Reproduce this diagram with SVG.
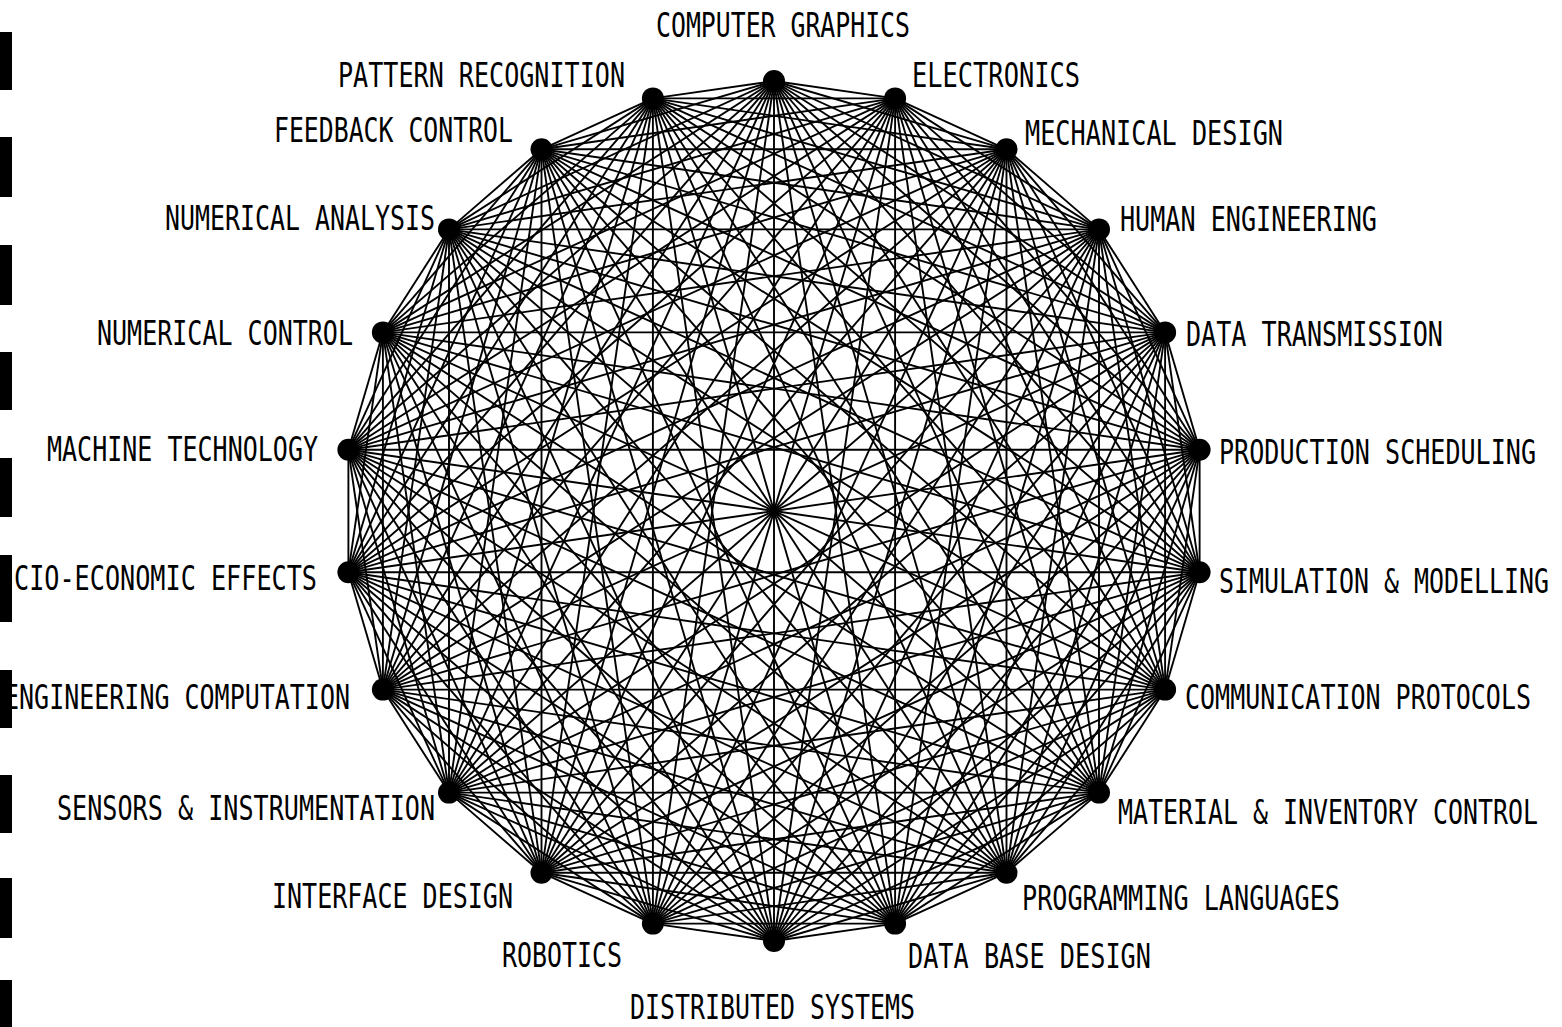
<svg xmlns="http://www.w3.org/2000/svg" width="1562" height="1027" viewBox="0 0 1562 1027">
<style>
.e{stroke:#000;stroke-width:1.9;fill:none}
.n{fill:#000}
.t{font-family:"DejaVu Sans Mono","Liberation Mono",monospace;font-size:25px;fill:#000}
.bar{fill:#000}
</style>
<rect width="1562" height="1027" fill="#fff"/>
<g id="scan-bars">
<rect class="bar" x="0" y="32" width="12" height="58"/>
<rect class="bar" x="0" y="137" width="12" height="60"/>
<rect class="bar" x="0" y="245" width="12" height="60"/>
<rect class="bar" x="0" y="352" width="12" height="58"/>
<rect class="bar" x="0" y="458" width="12" height="59"/>
<rect class="bar" x="0" y="775" width="12" height="58"/>
<rect class="bar" x="0" y="878" width="12" height="60"/>
<rect class="bar" x="0" y="980" width="12" height="47"/>
</g>
<g id="connectors">
<line class="e" x1="774" y1="81" x2="895.1" y2="98.4"/>
<line class="e" x1="774" y1="81" x2="1006.5" y2="149.3"/>
<line class="e" x1="774" y1="81" x2="1099" y2="229.4"/>
<line class="e" x1="774" y1="81" x2="1165.1" y2="332.4"/>
<line class="e" x1="774" y1="81" x2="1199.6" y2="449.8"/>
<line class="e" x1="774" y1="81" x2="1199.6" y2="572.2"/>
<line class="e" x1="774" y1="81" x2="1165.1" y2="689.6"/>
<line class="e" x1="774" y1="81" x2="1099" y2="792.6"/>
<line class="e" x1="774" y1="81" x2="1006.5" y2="872.7"/>
<line class="e" x1="774" y1="81" x2="895.1" y2="923.6"/>
<line class="e" x1="774" y1="81" x2="774" y2="941"/>
<line class="e" x1="774" y1="81" x2="652.9" y2="923.6"/>
<line class="e" x1="774" y1="81" x2="541.5" y2="872.7"/>
<line class="e" x1="774" y1="81" x2="449" y2="792.6"/>
<line class="e" x1="774" y1="81" x2="382.9" y2="689.6"/>
<line class="e" x1="774" y1="81" x2="348.4" y2="572.2"/>
<line class="e" x1="774" y1="81" x2="348.4" y2="449.8"/>
<line class="e" x1="774" y1="81" x2="382.9" y2="332.4"/>
<line class="e" x1="774" y1="81" x2="449" y2="229.4"/>
<line class="e" x1="774" y1="81" x2="541.5" y2="149.3"/>
<line class="e" x1="774" y1="81" x2="652.9" y2="98.4"/>
<line class="e" x1="895.1" y1="98.4" x2="1006.5" y2="149.3"/>
<line class="e" x1="895.1" y1="98.4" x2="1099" y2="229.4"/>
<line class="e" x1="895.1" y1="98.4" x2="1165.1" y2="332.4"/>
<line class="e" x1="895.1" y1="98.4" x2="1199.6" y2="449.8"/>
<line class="e" x1="895.1" y1="98.4" x2="1199.6" y2="572.2"/>
<line class="e" x1="895.1" y1="98.4" x2="1165.1" y2="689.6"/>
<line class="e" x1="895.1" y1="98.4" x2="1099" y2="792.6"/>
<line class="e" x1="895.1" y1="98.4" x2="1006.5" y2="872.7"/>
<line class="e" x1="895.1" y1="98.4" x2="895.1" y2="923.6"/>
<line class="e" x1="895.1" y1="98.4" x2="774" y2="941"/>
<line class="e" x1="895.1" y1="98.4" x2="652.9" y2="923.6"/>
<line class="e" x1="895.1" y1="98.4" x2="541.5" y2="872.7"/>
<line class="e" x1="895.1" y1="98.4" x2="449" y2="792.6"/>
<line class="e" x1="895.1" y1="98.4" x2="382.9" y2="689.6"/>
<line class="e" x1="895.1" y1="98.4" x2="348.4" y2="572.2"/>
<line class="e" x1="895.1" y1="98.4" x2="348.4" y2="449.8"/>
<line class="e" x1="895.1" y1="98.4" x2="382.9" y2="332.4"/>
<line class="e" x1="895.1" y1="98.4" x2="449" y2="229.4"/>
<line class="e" x1="895.1" y1="98.4" x2="541.5" y2="149.3"/>
<line class="e" x1="895.1" y1="98.4" x2="652.9" y2="98.4"/>
<line class="e" x1="1006.5" y1="149.3" x2="1099" y2="229.4"/>
<line class="e" x1="1006.5" y1="149.3" x2="1165.1" y2="332.4"/>
<line class="e" x1="1006.5" y1="149.3" x2="1199.6" y2="449.8"/>
<line class="e" x1="1006.5" y1="149.3" x2="1199.6" y2="572.2"/>
<line class="e" x1="1006.5" y1="149.3" x2="1165.1" y2="689.6"/>
<line class="e" x1="1006.5" y1="149.3" x2="1099" y2="792.6"/>
<line class="e" x1="1006.5" y1="149.3" x2="1006.5" y2="872.7"/>
<line class="e" x1="1006.5" y1="149.3" x2="895.1" y2="923.6"/>
<line class="e" x1="1006.5" y1="149.3" x2="774" y2="941"/>
<line class="e" x1="1006.5" y1="149.3" x2="652.9" y2="923.6"/>
<line class="e" x1="1006.5" y1="149.3" x2="541.5" y2="872.7"/>
<line class="e" x1="1006.5" y1="149.3" x2="449" y2="792.6"/>
<line class="e" x1="1006.5" y1="149.3" x2="382.9" y2="689.6"/>
<line class="e" x1="1006.5" y1="149.3" x2="348.4" y2="572.2"/>
<line class="e" x1="1006.5" y1="149.3" x2="348.4" y2="449.8"/>
<line class="e" x1="1006.5" y1="149.3" x2="382.9" y2="332.4"/>
<line class="e" x1="1006.5" y1="149.3" x2="449" y2="229.4"/>
<line class="e" x1="1006.5" y1="149.3" x2="541.5" y2="149.3"/>
<line class="e" x1="1006.5" y1="149.3" x2="652.9" y2="98.4"/>
<line class="e" x1="1099" y1="229.4" x2="1165.1" y2="332.4"/>
<line class="e" x1="1099" y1="229.4" x2="1199.6" y2="449.8"/>
<line class="e" x1="1099" y1="229.4" x2="1199.6" y2="572.2"/>
<line class="e" x1="1099" y1="229.4" x2="1165.1" y2="689.6"/>
<line class="e" x1="1099" y1="229.4" x2="1099" y2="792.6"/>
<line class="e" x1="1099" y1="229.4" x2="1006.5" y2="872.7"/>
<line class="e" x1="1099" y1="229.4" x2="895.1" y2="923.6"/>
<line class="e" x1="1099" y1="229.4" x2="774" y2="941"/>
<line class="e" x1="1099" y1="229.4" x2="652.9" y2="923.6"/>
<line class="e" x1="1099" y1="229.4" x2="541.5" y2="872.7"/>
<line class="e" x1="1099" y1="229.4" x2="449" y2="792.6"/>
<line class="e" x1="1099" y1="229.4" x2="382.9" y2="689.6"/>
<line class="e" x1="1099" y1="229.4" x2="348.4" y2="572.2"/>
<line class="e" x1="1099" y1="229.4" x2="348.4" y2="449.8"/>
<line class="e" x1="1099" y1="229.4" x2="382.9" y2="332.4"/>
<line class="e" x1="1099" y1="229.4" x2="449" y2="229.4"/>
<line class="e" x1="1099" y1="229.4" x2="541.5" y2="149.3"/>
<line class="e" x1="1099" y1="229.4" x2="652.9" y2="98.4"/>
<line class="e" x1="1165.1" y1="332.4" x2="1199.6" y2="449.8"/>
<line class="e" x1="1165.1" y1="332.4" x2="1199.6" y2="572.2"/>
<line class="e" x1="1165.1" y1="332.4" x2="1165.1" y2="689.6"/>
<line class="e" x1="1165.1" y1="332.4" x2="1099" y2="792.6"/>
<line class="e" x1="1165.1" y1="332.4" x2="1006.5" y2="872.7"/>
<line class="e" x1="1165.1" y1="332.4" x2="895.1" y2="923.6"/>
<line class="e" x1="1165.1" y1="332.4" x2="774" y2="941"/>
<line class="e" x1="1165.1" y1="332.4" x2="652.9" y2="923.6"/>
<line class="e" x1="1165.1" y1="332.4" x2="541.5" y2="872.7"/>
<line class="e" x1="1165.1" y1="332.4" x2="449" y2="792.6"/>
<line class="e" x1="1165.1" y1="332.4" x2="382.9" y2="689.6"/>
<line class="e" x1="1165.1" y1="332.4" x2="348.4" y2="572.2"/>
<line class="e" x1="1165.1" y1="332.4" x2="348.4" y2="449.8"/>
<line class="e" x1="1165.1" y1="332.4" x2="382.9" y2="332.4"/>
<line class="e" x1="1165.1" y1="332.4" x2="449" y2="229.4"/>
<line class="e" x1="1165.1" y1="332.4" x2="541.5" y2="149.3"/>
<line class="e" x1="1165.1" y1="332.4" x2="652.9" y2="98.4"/>
<line class="e" x1="1199.6" y1="449.8" x2="1199.6" y2="572.2"/>
<line class="e" x1="1199.6" y1="449.8" x2="1165.1" y2="689.6"/>
<line class="e" x1="1199.6" y1="449.8" x2="1099" y2="792.6"/>
<line class="e" x1="1199.6" y1="449.8" x2="1006.5" y2="872.7"/>
<line class="e" x1="1199.6" y1="449.8" x2="895.1" y2="923.6"/>
<line class="e" x1="1199.6" y1="449.8" x2="774" y2="941"/>
<line class="e" x1="1199.6" y1="449.8" x2="652.9" y2="923.6"/>
<line class="e" x1="1199.6" y1="449.8" x2="541.5" y2="872.7"/>
<line class="e" x1="1199.6" y1="449.8" x2="449" y2="792.6"/>
<line class="e" x1="1199.6" y1="449.8" x2="382.9" y2="689.6"/>
<line class="e" x1="1199.6" y1="449.8" x2="348.4" y2="572.2"/>
<line class="e" x1="1199.6" y1="449.8" x2="348.4" y2="449.8"/>
<line class="e" x1="1199.6" y1="449.8" x2="382.9" y2="332.4"/>
<line class="e" x1="1199.6" y1="449.8" x2="449" y2="229.4"/>
<line class="e" x1="1199.6" y1="449.8" x2="541.5" y2="149.3"/>
<line class="e" x1="1199.6" y1="449.8" x2="652.9" y2="98.4"/>
<line class="e" x1="1199.6" y1="572.2" x2="1165.1" y2="689.6"/>
<line class="e" x1="1199.6" y1="572.2" x2="1099" y2="792.6"/>
<line class="e" x1="1199.6" y1="572.2" x2="1006.5" y2="872.7"/>
<line class="e" x1="1199.6" y1="572.2" x2="895.1" y2="923.6"/>
<line class="e" x1="1199.6" y1="572.2" x2="774" y2="941"/>
<line class="e" x1="1199.6" y1="572.2" x2="652.9" y2="923.6"/>
<line class="e" x1="1199.6" y1="572.2" x2="541.5" y2="872.7"/>
<line class="e" x1="1199.6" y1="572.2" x2="449" y2="792.6"/>
<line class="e" x1="1199.6" y1="572.2" x2="382.9" y2="689.6"/>
<line class="e" x1="1199.6" y1="572.2" x2="348.4" y2="572.2"/>
<line class="e" x1="1199.6" y1="572.2" x2="348.4" y2="449.8"/>
<line class="e" x1="1199.6" y1="572.2" x2="382.9" y2="332.4"/>
<line class="e" x1="1199.6" y1="572.2" x2="449" y2="229.4"/>
<line class="e" x1="1199.6" y1="572.2" x2="541.5" y2="149.3"/>
<line class="e" x1="1199.6" y1="572.2" x2="652.9" y2="98.4"/>
<line class="e" x1="1165.1" y1="689.6" x2="1099" y2="792.6"/>
<line class="e" x1="1165.1" y1="689.6" x2="1006.5" y2="872.7"/>
<line class="e" x1="1165.1" y1="689.6" x2="895.1" y2="923.6"/>
<line class="e" x1="1165.1" y1="689.6" x2="774" y2="941"/>
<line class="e" x1="1165.1" y1="689.6" x2="652.9" y2="923.6"/>
<line class="e" x1="1165.1" y1="689.6" x2="541.5" y2="872.7"/>
<line class="e" x1="1165.1" y1="689.6" x2="449" y2="792.6"/>
<line class="e" x1="1165.1" y1="689.6" x2="382.9" y2="689.6"/>
<line class="e" x1="1165.1" y1="689.6" x2="348.4" y2="572.2"/>
<line class="e" x1="1165.1" y1="689.6" x2="348.4" y2="449.8"/>
<line class="e" x1="1165.1" y1="689.6" x2="382.9" y2="332.4"/>
<line class="e" x1="1165.1" y1="689.6" x2="449" y2="229.4"/>
<line class="e" x1="1165.1" y1="689.6" x2="541.5" y2="149.3"/>
<line class="e" x1="1165.1" y1="689.6" x2="652.9" y2="98.4"/>
<line class="e" x1="1099" y1="792.6" x2="1006.5" y2="872.7"/>
<line class="e" x1="1099" y1="792.6" x2="895.1" y2="923.6"/>
<line class="e" x1="1099" y1="792.6" x2="774" y2="941"/>
<line class="e" x1="1099" y1="792.6" x2="652.9" y2="923.6"/>
<line class="e" x1="1099" y1="792.6" x2="541.5" y2="872.7"/>
<line class="e" x1="1099" y1="792.6" x2="449" y2="792.6"/>
<line class="e" x1="1099" y1="792.6" x2="382.9" y2="689.6"/>
<line class="e" x1="1099" y1="792.6" x2="348.4" y2="572.2"/>
<line class="e" x1="1099" y1="792.6" x2="348.4" y2="449.8"/>
<line class="e" x1="1099" y1="792.6" x2="382.9" y2="332.4"/>
<line class="e" x1="1099" y1="792.6" x2="449" y2="229.4"/>
<line class="e" x1="1099" y1="792.6" x2="541.5" y2="149.3"/>
<line class="e" x1="1099" y1="792.6" x2="652.9" y2="98.4"/>
<line class="e" x1="1006.5" y1="872.7" x2="895.1" y2="923.6"/>
<line class="e" x1="1006.5" y1="872.7" x2="774" y2="941"/>
<line class="e" x1="1006.5" y1="872.7" x2="652.9" y2="923.6"/>
<line class="e" x1="1006.5" y1="872.7" x2="541.5" y2="872.7"/>
<line class="e" x1="1006.5" y1="872.7" x2="449" y2="792.6"/>
<line class="e" x1="1006.5" y1="872.7" x2="382.9" y2="689.6"/>
<line class="e" x1="1006.5" y1="872.7" x2="348.4" y2="572.2"/>
<line class="e" x1="1006.5" y1="872.7" x2="348.4" y2="449.8"/>
<line class="e" x1="1006.5" y1="872.7" x2="382.9" y2="332.4"/>
<line class="e" x1="1006.5" y1="872.7" x2="449" y2="229.4"/>
<line class="e" x1="1006.5" y1="872.7" x2="541.5" y2="149.3"/>
<line class="e" x1="1006.5" y1="872.7" x2="652.9" y2="98.4"/>
<line class="e" x1="895.1" y1="923.6" x2="774" y2="941"/>
<line class="e" x1="895.1" y1="923.6" x2="652.9" y2="923.6"/>
<line class="e" x1="895.1" y1="923.6" x2="541.5" y2="872.7"/>
<line class="e" x1="895.1" y1="923.6" x2="449" y2="792.6"/>
<line class="e" x1="895.1" y1="923.6" x2="382.9" y2="689.6"/>
<line class="e" x1="895.1" y1="923.6" x2="348.4" y2="572.2"/>
<line class="e" x1="895.1" y1="923.6" x2="348.4" y2="449.8"/>
<line class="e" x1="895.1" y1="923.6" x2="382.9" y2="332.4"/>
<line class="e" x1="895.1" y1="923.6" x2="449" y2="229.4"/>
<line class="e" x1="895.1" y1="923.6" x2="541.5" y2="149.3"/>
<line class="e" x1="895.1" y1="923.6" x2="652.9" y2="98.4"/>
<line class="e" x1="774" y1="941" x2="652.9" y2="923.6"/>
<line class="e" x1="774" y1="941" x2="541.5" y2="872.7"/>
<line class="e" x1="774" y1="941" x2="449" y2="792.6"/>
<line class="e" x1="774" y1="941" x2="382.9" y2="689.6"/>
<line class="e" x1="774" y1="941" x2="348.4" y2="572.2"/>
<line class="e" x1="774" y1="941" x2="348.4" y2="449.8"/>
<line class="e" x1="774" y1="941" x2="382.9" y2="332.4"/>
<line class="e" x1="774" y1="941" x2="449" y2="229.4"/>
<line class="e" x1="774" y1="941" x2="541.5" y2="149.3"/>
<line class="e" x1="774" y1="941" x2="652.9" y2="98.4"/>
<line class="e" x1="652.9" y1="923.6" x2="541.5" y2="872.7"/>
<line class="e" x1="652.9" y1="923.6" x2="449" y2="792.6"/>
<line class="e" x1="652.9" y1="923.6" x2="382.9" y2="689.6"/>
<line class="e" x1="652.9" y1="923.6" x2="348.4" y2="572.2"/>
<line class="e" x1="652.9" y1="923.6" x2="348.4" y2="449.8"/>
<line class="e" x1="652.9" y1="923.6" x2="382.9" y2="332.4"/>
<line class="e" x1="652.9" y1="923.6" x2="449" y2="229.4"/>
<line class="e" x1="652.9" y1="923.6" x2="541.5" y2="149.3"/>
<line class="e" x1="652.9" y1="923.6" x2="652.9" y2="98.4"/>
<line class="e" x1="541.5" y1="872.7" x2="449" y2="792.6"/>
<line class="e" x1="541.5" y1="872.7" x2="382.9" y2="689.6"/>
<line class="e" x1="541.5" y1="872.7" x2="348.4" y2="572.2"/>
<line class="e" x1="541.5" y1="872.7" x2="348.4" y2="449.8"/>
<line class="e" x1="541.5" y1="872.7" x2="382.9" y2="332.4"/>
<line class="e" x1="541.5" y1="872.7" x2="449" y2="229.4"/>
<line class="e" x1="541.5" y1="872.7" x2="541.5" y2="149.3"/>
<line class="e" x1="541.5" y1="872.7" x2="652.9" y2="98.4"/>
<line class="e" x1="449" y1="792.6" x2="382.9" y2="689.6"/>
<line class="e" x1="449" y1="792.6" x2="348.4" y2="572.2"/>
<line class="e" x1="449" y1="792.6" x2="348.4" y2="449.8"/>
<line class="e" x1="449" y1="792.6" x2="382.9" y2="332.4"/>
<line class="e" x1="449" y1="792.6" x2="449" y2="229.4"/>
<line class="e" x1="449" y1="792.6" x2="541.5" y2="149.3"/>
<line class="e" x1="449" y1="792.6" x2="652.9" y2="98.4"/>
<line class="e" x1="382.9" y1="689.6" x2="348.4" y2="572.2"/>
<line class="e" x1="382.9" y1="689.6" x2="348.4" y2="449.8"/>
<line class="e" x1="382.9" y1="689.6" x2="382.9" y2="332.4"/>
<line class="e" x1="382.9" y1="689.6" x2="449" y2="229.4"/>
<line class="e" x1="382.9" y1="689.6" x2="541.5" y2="149.3"/>
<line class="e" x1="382.9" y1="689.6" x2="652.9" y2="98.4"/>
<line class="e" x1="348.4" y1="572.2" x2="348.4" y2="449.8"/>
<line class="e" x1="348.4" y1="572.2" x2="382.9" y2="332.4"/>
<line class="e" x1="348.4" y1="572.2" x2="449" y2="229.4"/>
<line class="e" x1="348.4" y1="572.2" x2="541.5" y2="149.3"/>
<line class="e" x1="348.4" y1="572.2" x2="652.9" y2="98.4"/>
<line class="e" x1="348.4" y1="449.8" x2="382.9" y2="332.4"/>
<line class="e" x1="348.4" y1="449.8" x2="449" y2="229.4"/>
<line class="e" x1="348.4" y1="449.8" x2="541.5" y2="149.3"/>
<line class="e" x1="348.4" y1="449.8" x2="652.9" y2="98.4"/>
<line class="e" x1="382.9" y1="332.4" x2="449" y2="229.4"/>
<line class="e" x1="382.9" y1="332.4" x2="541.5" y2="149.3"/>
<line class="e" x1="382.9" y1="332.4" x2="652.9" y2="98.4"/>
<line class="e" x1="449" y1="229.4" x2="541.5" y2="149.3"/>
<line class="e" x1="449" y1="229.4" x2="652.9" y2="98.4"/>
<line class="e" x1="541.5" y1="149.3" x2="652.9" y2="98.4"/>
</g>
<g id="n0"><circle class="n" cx="774" cy="81" r="11"/><text class="t" transform="translate(656,37) scale(1,1.36)" textLength="254" lengthAdjust="spacingAndGlyphs">COMPUTER GRAPHICS</text></g>
<g id="n1"><circle class="n" cx="895.1" cy="98.4" r="11"/><text class="t" transform="translate(912,87) scale(1,1.36)" textLength="168" lengthAdjust="spacingAndGlyphs">ELECTRONICS</text></g>
<g id="n2"><circle class="n" cx="1006.5" cy="149.3" r="11"/><text class="t" transform="translate(1025,145) scale(1,1.36)" textLength="258" lengthAdjust="spacingAndGlyphs">MECHANICAL DESIGN</text></g>
<g id="n3"><circle class="n" cx="1099" cy="229.4" r="11"/><text class="t" transform="translate(1120,231) scale(1,1.36)" textLength="257" lengthAdjust="spacingAndGlyphs">HUMAN ENGINEERING</text></g>
<g id="n4"><circle class="n" cx="1165.1" cy="332.4" r="11"/><text class="t" transform="translate(1186,346) scale(1,1.36)" textLength="257" lengthAdjust="spacingAndGlyphs">DATA TRANSMISSION</text></g>
<g id="n5"><circle class="n" cx="1199.6" cy="449.8" r="11"/><text class="t" transform="translate(1219,464) scale(1,1.36)" textLength="317" lengthAdjust="spacingAndGlyphs">PRODUCTION SCHEDULING</text></g>
<g id="n6"><circle class="n" cx="1199.6" cy="572.2" r="11"/><text class="t" transform="translate(1219,593) scale(1,1.36)" textLength="330" lengthAdjust="spacingAndGlyphs">SIMULATION &amp; MODELLING</text></g>
<g id="n7"><circle class="n" cx="1165.1" cy="689.6" r="11"/><text class="t" transform="translate(1185,709) scale(1,1.36)" textLength="346" lengthAdjust="spacingAndGlyphs">COMMUNICATION PROTOCOLS</text></g>
<g id="n8"><circle class="n" cx="1099" cy="792.6" r="11"/><text class="t" transform="translate(1118,824) scale(1,1.36)" textLength="420" lengthAdjust="spacingAndGlyphs">MATERIAL &amp; INVENTORY CONTROL</text></g>
<g id="n9"><circle class="n" cx="1006.5" cy="872.7" r="11"/><text class="t" transform="translate(1022,910) scale(1,1.36)" textLength="318" lengthAdjust="spacingAndGlyphs">PROGRAMMING LANGUAGES</text></g>
<g id="n10"><circle class="n" cx="895.1" cy="923.6" r="11"/><text class="t" transform="translate(908,968) scale(1,1.36)" textLength="243" lengthAdjust="spacingAndGlyphs">DATA BASE DESIGN</text></g>
<g id="n11"><circle class="n" cx="774" cy="941" r="11"/><text class="t" transform="translate(630,1019) scale(1,1.36)" textLength="285" lengthAdjust="spacingAndGlyphs">DISTRIBUTED SYSTEMS</text></g>
<g id="n12"><circle class="n" cx="652.9" cy="923.6" r="11"/><text class="t" transform="translate(502,967) scale(1,1.36)" textLength="120" lengthAdjust="spacingAndGlyphs">ROBOTICS</text></g>
<g id="n13"><circle class="n" cx="541.5" cy="872.7" r="11"/><text class="t" transform="translate(272,908) scale(1,1.36)" textLength="241" lengthAdjust="spacingAndGlyphs">INTERFACE DESIGN</text></g>
<g id="n14"><circle class="n" cx="449" cy="792.6" r="11"/><text class="t" transform="translate(57,820) scale(1,1.36)" textLength="378" lengthAdjust="spacingAndGlyphs">SENSORS &amp; INSTRUMENTATION</text></g>
<g id="n15"><circle class="n" cx="382.9" cy="689.6" r="11"/><text class="t" transform="translate(4,709) scale(1,1.36)" textLength="346" lengthAdjust="spacingAndGlyphs">ENGINEERING COMPUTATION</text></g>
<g id="n16"><circle class="n" cx="348.4" cy="572.2" r="11"/><text class="t" transform="translate(14,590) scale(1,1.36)" textLength="303" lengthAdjust="spacingAndGlyphs">CIO-ECONOMIC EFFECTS</text></g>
<g id="n17"><circle class="n" cx="348.4" cy="449.8" r="11"/><text class="t" transform="translate(47,461) scale(1,1.36)" textLength="271" lengthAdjust="spacingAndGlyphs">MACHINE TECHNOLOGY</text></g>
<g id="n18"><circle class="n" cx="382.9" cy="332.4" r="11"/><text class="t" transform="translate(97,345) scale(1,1.36)" textLength="256" lengthAdjust="spacingAndGlyphs">NUMERICAL CONTROL</text></g>
<g id="n19"><circle class="n" cx="449" cy="229.4" r="11"/><text class="t" transform="translate(165,230) scale(1,1.36)" textLength="270" lengthAdjust="spacingAndGlyphs">NUMERICAL ANALYSIS</text></g>
<g id="n20"><circle class="n" cx="541.5" cy="149.3" r="11"/><text class="t" transform="translate(274,142) scale(1,1.36)" textLength="239" lengthAdjust="spacingAndGlyphs">FEEDBACK CONTROL</text></g>
<g id="n21"><circle class="n" cx="652.9" cy="98.4" r="11"/><text class="t" transform="translate(338,87) scale(1,1.36)" textLength="287" lengthAdjust="spacingAndGlyphs">PATTERN RECOGNITION</text></g>
<g id="bar-overlay">
<rect class="bar" x="0" y="555" width="12" height="67"/>
<rect class="bar" x="0" y="670" width="12" height="58"/>
</g>
</svg>
